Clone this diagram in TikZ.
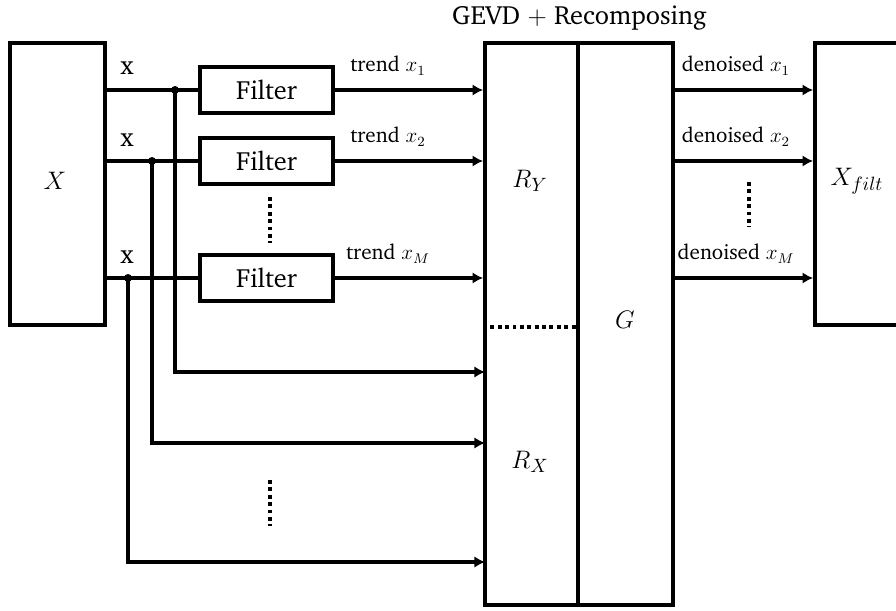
\documentclass[tikz,border=0pt]{standalone}
\usepackage[T1]{fontenc}
\usepackage{charter}
\usepackage{tikz}
\usetikzlibrary{arrows.meta,calc}

\begin{document}
\begin{tikzpicture}[
	line width=2.2pt,
	>={Latex[length=6pt,width=6.5pt]},
	block/.style={draw, line width=2.2pt, inner sep=0pt},
	txt/.style={font=\fontsize{15}{18}\selectfont},
	lbl/.style={font=\fontsize{12}{14}\selectfont, anchor=base},
	]
	\useasboundingbox (0,0) rectangle (17.92,12.2);
	
	% input and output blocks
	\node[block, minimum width=1.9cm, minimum height=5.64cm] (Xin) at (1.15,8.52) {};
	\node[txt] (Xlab) at (1.1,8.58) {$X$};
	\node[block, minimum width=1.9cm, minimum height=5.64cm] (Xout) at (17.25,8.52) {};
	\node[txt] (Xoutlab) at (17.14,8.58) {$X_{filt}$};
	
	% filters
	\node[block, txt, minimum width=2.66cm, minimum height=0.92cm] (filt1) at (5.33,10.4) {Filter};
	\node[block, txt, minimum width=2.66cm, minimum height=0.92cm] (filt2) at (5.33,8.98) {Filter};
	\node[block, txt, minimum width=2.66cm, minimum height=0.92cm] (filtM) at (5.33,6.64) {Filter};
	
	% GEVD block
	\node[block, minimum width=1.86cm, minimum height=11.24cm] (Rbox) at (10.63,5.72) {};
	\node[block, minimum width=1.9cm, minimum height=11.24cm] (Gbox) at (12.51,5.72) {};
	\node[txt, anchor=base] (gevd) at (11.59,11.7) {GEVD $+$ Recomposing};
	\node[txt] (RY) at (10.6,8.58) {$R_Y$};
	\node[txt] (RX) at (10.6,2.96) {$R_X$};
	\node[txt] (G) at (12.5,5.8) {$G$};
	\draw[dotted] (Rbox.west |- Xin.south) -- (Rbox.east |- Xin.south);
	
	% inputs into the filters
	\draw (Xin.east |- filt1) -- (filt1.west);
	\draw (Xin.east |- filt2) -- (filt2.west);
	\draw (Xin.east |- filtM) -- (filtM.west);
	\node[txt, anchor=base] (x1) at (2.54,10.7) {x};
	\node[txt, anchor=base] (x2) at (2.54,9.28) {x};
	\node[txt, anchor=base] (xM) at (2.54,6.94) {x};
	\draw[dotted] (5.4,8.26) -- (5.4,7.34);
	
	% trends into R_Y
	\draw[->] (filt1.east) -- (filt1.east -| Rbox.west);
	\draw[->] (filt2.east) -- (filt2.east -| Rbox.west);
	\draw[->] (filtM.east) -- (filtM.east -| Rbox.west);
	\node[lbl] (tr1) at (7.76,10.76) {trend $x_1$};
	\node[lbl] (tr2) at (7.76,9.34) {trend $x_2$};
	\node[lbl] (trM) at (7.76,7.0) {trend $x_M$};
	
	% raw signals into R_X
	\coordinate (j1) at (3.5,10.4);
	\coordinate (j2) at (3.04,8.98);
	\coordinate (jM) at (2.56,6.64);
	\coordinate (in1) at (9.7,4.76);
	\coordinate (in2) at (9.7,3.34);
	\coordinate (inM) at (9.7,0.96);
	\draw[->] (j1) |- (in1);
	\draw[->] (j2) |- (in2);
	\draw[->] (jM) |- (inM);
	\fill (j1) circle (0.08);
	\fill (j2) circle (0.08);
	\fill (jM) circle (0.08);
	\draw[dotted] (5.4,2.6) -- (5.4,1.68);
	
	% denoised outputs
	\draw[->] (Gbox.east |- filt1) -- (Xout.west |- filt1);
	\draw[->] (Gbox.east |- filt2) -- (Xout.west |- filt2);
	\draw[->] (Gbox.east |- filtM) -- (Xout.west |- filtM);
	\node[lbl] (dn1) at (14.72,10.76) {denoised $x_1$};
	\node[lbl] (dn2) at (14.72,9.34) {denoised $x_2$};
	\node[lbl] (dnM) at (14.72,7.0) {denoised $x_M$};
	\draw[dotted] (14.98,8.56) -- (14.98,7.66);
\end{tikzpicture}
\end{document}
